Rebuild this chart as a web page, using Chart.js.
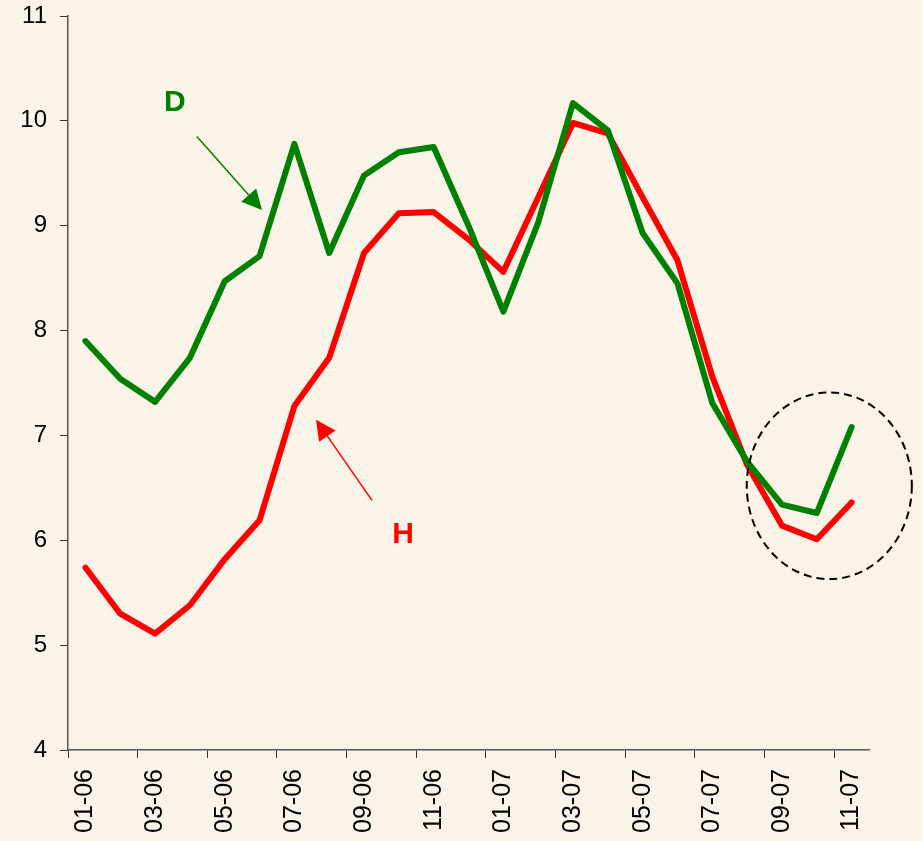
<!DOCTYPE html>
<html>
<head>
<meta charset="utf-8">
<script src="https://cdn.jsdelivr.net/npm/chart.js@4.4.1/dist/chart.umd.min.js"></script>
<style>
    html, body { margin: 0; padding: 0; background: #F9F3E8; }
    #wrap { width: 923px; height: 841px; position: relative; }
</style>
</head>
<body>
<div id="wrap"><canvas id="trendChart"></canvas></div>
<script>
const months = ['01-06', '02-06', '03-06', '04-06', '05-06', '06-06', '07-06', '08-06', '09-06', '10-06', '11-06', '12-06',
    '01-07', '02-07', '03-07', '04-07', '05-07', '06-07', '07-07', '08-07', '09-07', '10-07', '11-07'];
const dValues = [7.90, 7.54, 7.32, 7.74, 8.47, 8.71, 9.78, 8.74, 9.48, 9.70, 9.75, 9.00,
    8.18, 9.03, 10.17, 9.91, 8.93, 8.45, 7.31, 6.75, 6.34, 6.26, 7.08];
const hValues = [5.74, 5.30, 5.11, 5.38, 5.82, 6.19, 7.28, 7.74, 8.74, 9.12, 9.13, 8.87,
    8.56, 9.27, 9.98, 9.88, 9.27, 8.67, 7.56, 6.72, 6.14, 6.01, 6.36];
const yMin = 4;
const yMax = 11;

// callouts in data units (category index, value)
const dLabel = { text: 'D', x: 2.57, y: 10.17, color: '#008000' };
const dArrow = { from: [3.2, 9.85], to: [5.07, 9.15], color: '#008000' };
const hLabel = { text: 'H', x: 9.12, y: 6.05, color: '#FF0000' };
const hArrow = { from: [8.23, 6.38], to: [6.62, 7.15], color: '#FF0000' };
const circle = { x: 21.36, y: 6.52, rx: 2.37, ry: 0.89 };

const FONT = "'Liberation Sans', Arial, sans-serif";

const calloutPlugin = {
    id: 'callouts',
    afterDatasetsDraw(chart) {
        const ctx = chart.ctx;
        const xs = chart.scales.x;
        const ys = chart.scales.y;
        const px = v => xs.getPixelForValue(v);
        const py = v => ys.getPixelForValue(v);

        function drawArrow(a) {
            const x1 = px(a.from[0]), y1 = py(a.from[1]);
            const x2 = px(a.to[0]), y2 = py(a.to[1]);
            const ang = Math.atan2(y2 - y1, x2 - x1);
            const len = 20, half = 10;
            const bx = x2 - len * Math.cos(ang), by = y2 - len * Math.sin(ang);
            ctx.save();
            ctx.strokeStyle = a.color;
            ctx.fillStyle = a.color;
            ctx.lineWidth = 1.5;
            ctx.beginPath();
            ctx.moveTo(x1, y1);
            ctx.lineTo(bx, by);
            ctx.stroke();
            ctx.beginPath();
            ctx.moveTo(x2, y2);
            ctx.lineTo(bx + half * Math.sin(ang), by - half * Math.cos(ang));
            ctx.lineTo(bx - half * Math.sin(ang), by + half * Math.cos(ang));
            ctx.closePath();
            ctx.fill();
            ctx.restore();
        }

        function drawLabel(l) {
            ctx.save();
            ctx.font = 'bold 30px ' + FONT;
            ctx.fillStyle = l.color;
            ctx.textAlign = 'center';
            ctx.textBaseline = 'middle';
            ctx.fillText(l.text, px(l.x), py(l.y));
            ctx.restore();
        }

        drawLabel(dLabel);
        drawArrow(dArrow);
        drawLabel(hLabel);
        drawArrow(hArrow);

        const cx = px(circle.x), cy = py(circle.y);
        const rx = px(circle.x + circle.rx) - cx;
        const ry = cy - py(circle.y + circle.ry);
        ctx.save();
        ctx.strokeStyle = '#000';
        ctx.lineWidth = 2;
        ctx.setLineDash([8, 5]);
        ctx.beginPath();
        ctx.ellipse(cx, cy, rx, ry, 0, 0, Math.PI * 2);
        ctx.stroke();
        ctx.restore();
    }
};

new Chart(document.getElementById('trendChart').getContext('2d'), {
    type: 'line',
    data: {
        labels: months,
        datasets: [{
            label: 'D',
            data: dValues,
            borderColor: '#008000',
            borderWidth: 6,
            order: 1
        }, {
            label: 'H',
            data: hValues,
            borderColor: '#FF0000',
            borderWidth: 6,
            order: 2
        }]
    },
    options: {
        responsive: true,
        maintainAspectRatio: false,
        animation: false,
        layout: { padding: { top: 16, right: 54, left: 0, bottom: 0 } },
        elements: {
            point: { radius: 0, hoverRadius: 0 },
            line: { tension: 0, borderJoinStyle: 'round', borderCapStyle: 'round' }
        },
        plugins: {
            legend: { display: false },
            tooltip: { enabled: false }
        },
        scales: {
            x: {
                offset: true,
                afterFit(scale) { scale.height = 91; },
                border: { display: true, color: '#555', width: 1.5 },
                grid: {
                    offset: true,
                    drawOnChartArea: false,
                    drawTicks: true,
                    tickLength: 8,
                    color: ctx => (ctx.index % 2 === 0 ? '#333' : 'rgba(0,0,0,0)')
                },
                ticks: {
                    autoSkip: false,
                    minRotation: 90,
                    maxRotation: 90,
                    padding: 11,
                    color: '#000',
                    font: { family: FONT, size: 25 },
                    callback: (val, i) => (i % 2 === 0 ? months[i] : '')
                }
            },
            y: {
                min: yMin,
                max: yMax,
                afterFit(scale) {
                    scale.width = 68;
                    scale.paddingTop = 0;
                    scale.paddingBottom = 0;
                },
                border: { display: true, color: '#555', width: 1.5 },
                grid: {
                    drawOnChartArea: false,
                    drawTicks: true,
                    tickLength: 8,
                    color: '#333'
                },
                ticks: {
                    stepSize: 1,
                    padding: 13,
                    color: '#000',
                    font: { family: FONT, size: 24 }
                }
            }
        }
    },
    plugins: [calloutPlugin]
});
</script>
</body>
</html>
